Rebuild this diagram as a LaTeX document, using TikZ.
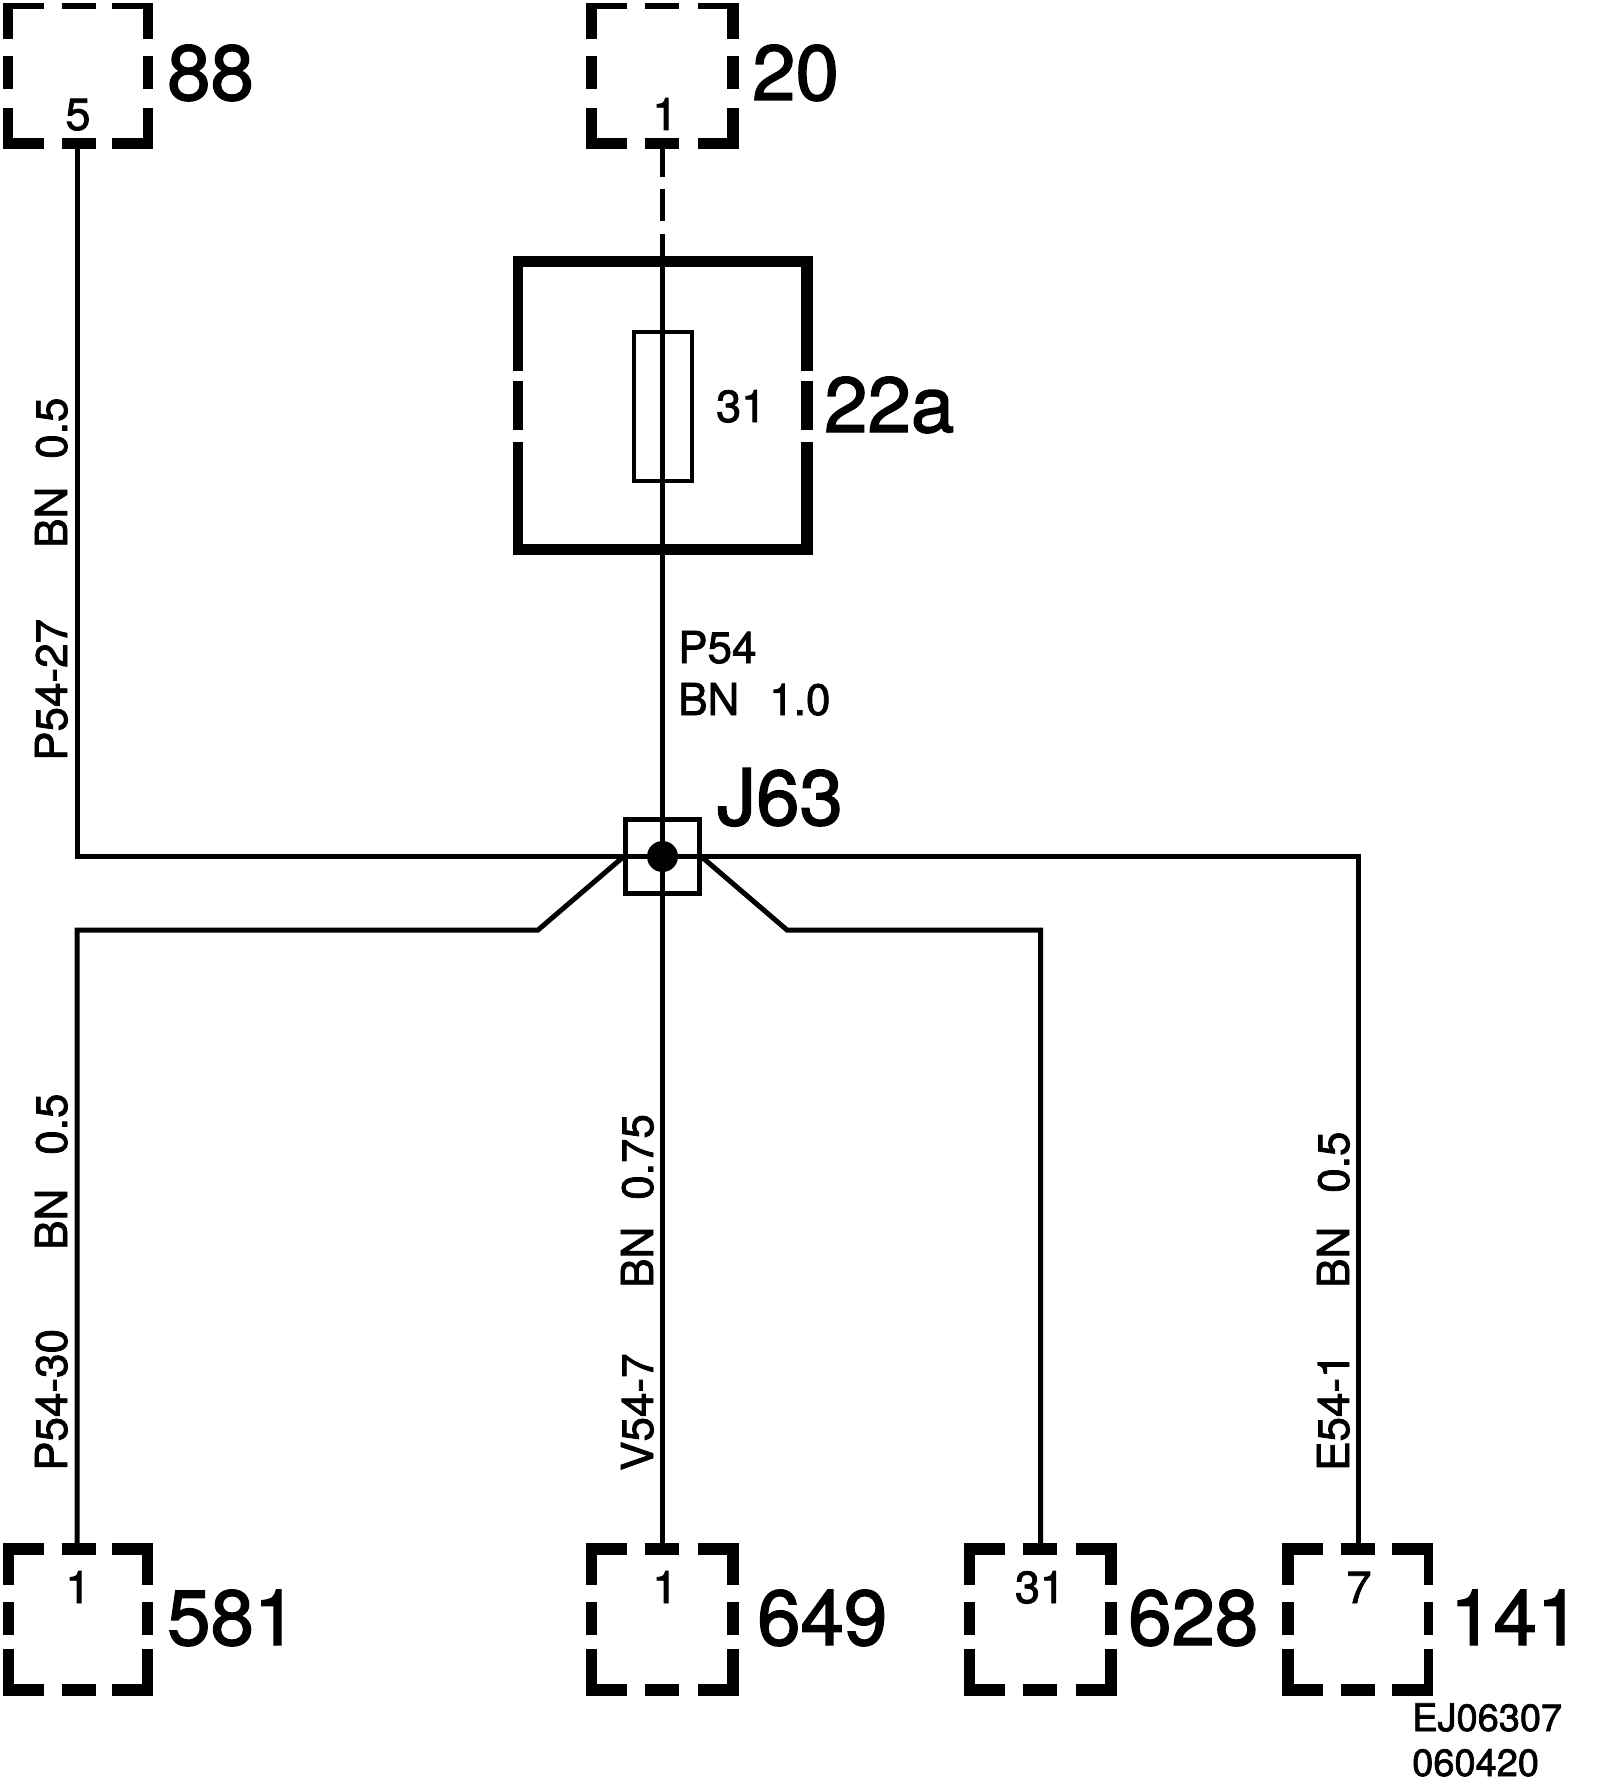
\documentclass[tikz,border=0pt]{standalone}
\usepackage{fontspec}
\setmainfont{TeX Gyre Heros}[FakeBold=1.8]
\newcommand{\cbox}[9]{% name x y w h tTop tBot tL tR
  \begin{scope}[shift={(#2,#3)}]
    \coordinate (#1) at (0,0);
    \pgfmathsetmacro{\bw}{#4}\pgfmathsetmacro{\bh}{#5}
    \pgfmathsetmacro{\cv}{\bh==146 ? 36 : 42}
    \pgfmathsetmacro{\ma}{\bh==146 ? 53 : 59}
    \pgfmathsetmacro{\mb}{\bh==146 ? 86 : 92}
    \pgfmathsetmacro{\cw}{\bw-41}
    \pgfmathsetmacro{\cb}{\bh-\cv-5}
    \pgfmathsetmacro{\tB}{\bh-#7}
    \pgfmathsetmacro{\tR}{\bw-#9}
    \fill (0,0) rectangle (41,#6);
    \fill (59,0) rectangle (93,#6);
    \fill (\cw,0) rectangle (\bw,#6);
    \fill (0,\tB) rectangle (41,\bh);
    \fill (59,\tB) rectangle (93,\bh);
    \fill (\cw,\tB) rectangle (\bw,\bh);
    \fill (0,0) rectangle (#8,\cv);
    \fill (0,\ma) rectangle (#8,\mb);
    \fill (0,\cb) rectangle (#8,\bh);
    \fill (\tR,0) rectangle (\bw,\cv);
    \fill (\tR,\ma) rectangle (\bw,\mb);
    \fill (\tR,\cb) rectangle (\bw,\bh);
  \end{scope}
}
\tikzset{
  wire/.style={line width=5pt,line join=miter},
  big/.style={anchor=base west,inner sep=0pt,font=\fontsize{78}{78}\selectfont},
  pinlabel/.style={anchor=base,inner sep=0pt,font=\fontsize{45}{45}\selectfont},
  wirelabel/.style={anchor=base west,inner sep=0pt,font=\fontsize{44}{44}\selectfont},
  vlabel/.style={wirelabel,rotate=90},
  stamp/.style={anchor=base west,inner sep=0pt,font=\fontsize{38}{38}\selectfont}
}
\begin{document}
\begin{tikzpicture}[x=1pt,y=-1pt]
\useasboundingbox (0,0) rectangle (1600,1790);
% connector boxes
\cbox{b88}{3}{3}{150}{146}{6}{11}{10}{10}
\cbox{b20}{586}{3}{153}{146}{6}{11}{11}{12}
\cbox{b581}{3}{1543}{150}{153}{12}{12}{11}{11}
\cbox{b649}{586}{1543}{153}{153}{12}{12}{11}{12}
\cbox{b628}{964}{1543}{153}{153}{12}{12}{11}{12}
\cbox{b141}{1282}{1543}{151}{153}{12}{12}{12}{9}
% fuse housing
\fill (513,256) rectangle (813,267);
\fill (513,544) rectangle (813,555);
\fill (513,256) rectangle (523,371);
\fill (513,381) rectangle (523,430);
\fill (513,442) rectangle (523,555);
\fill (801,256) rectangle (813,371);
\fill (801,381) rectangle (813,430);
\fill (801,442) rectangle (813,555);
% pins
\coordinate (p88) at (77,149);
\coordinate (p20) at (662.5,149);
\coordinate (p581) at (77,1543);
\coordinate (p649) at (662.5,1543);
\coordinate (p628) at (1040.5,1543);
\coordinate (p141) at (1358.5,1543);
% junction
\node[draw,line width=5pt,minimum size=74pt,inner sep=0pt] (j63) at (662.5,856.5) {};
\node[fill,circle,minimum size=31pt,inner sep=0pt] (dot) at (662.5,856.5) {};
\node[draw,line width=3.6pt,minimum width=58.5pt,minimum height=149.5pt,inner sep=0pt] (fuse) at (663,406.5) {};
\coordinate (jl) at (622,858);
\coordinate (jr) at (703,858);
\coordinate (kl) at (538,930);
\coordinate (kr) at (787,930);
\coordinate (cl) at (77,930);
\coordinate (cr) at (1040.5,930);
\coordinate (tl) at (77,856.5);
\coordinate (tr) at (1358.5,856.5);
% wires
\draw[wire] (p88) -- (tl) -- (dot.center);
\draw[wire] (dot.center) -- (tr) -- (p141);
\draw[wire,dash pattern=on 28pt off 12pt on 32pt off 13pt on 1400pt] (p20) -- (p649);
\draw[wire] (jl) -- (kl) -- (cl) -- (p581);
\draw[wire] (jr) -- (kr) -- (cr) -- (p628);
% big labels
\node[big] (l88) at (167,100) {88};
\node[big] (l20) at (752,100) {20};
\node[big] (l22a) at (824,432) {22a};
\node[big] (lj63) at (717,825) {J63};
\node[big] (l581) at (167,1645) {581};
\node[big] (l649) at (757,1645) {649};
\node[big] (l628) at (1128,1645) {628};
\node[big] (l141) at (1450,1645) {141};
% pin numbers
\node[pinlabel] (n5) at (78,130) {5};
\node[pinlabel] (n1a) at (665,130) {1};
\node[pinlabel] (n1b) at (78,1603) {1};
\node[pinlabel] (n1c) at (665,1603) {1};
\node[pinlabel] (n31) at (1040,1603) {31};
\node[pinlabel] (n7) at (1359,1603) {7};
\node[pinlabel,anchor=base west] (f31) at (716,422) {31};
% wire labels
\node[wirelabel] (w1) at (678,663) {P54};
\node[wirelabel] (w2) at (678,715) {BN\hspace{30pt}1.0};
\node[vlabel] (v1) at (67,761) {P54-27};
\node[vlabel] (v2) at (67,548) {BN\hspace{28pt}0.5};
\node[vlabel] (v3) at (67,1471) {P54-30};
\node[vlabel] (v4) at (67,1250) {BN\hspace{34pt}0.5};
\node[vlabel] (v5) at (653,1471) {V54-7};
\node[vlabel] (v6) at (653,1288) {BN\hspace{27pt}0.75};
\node[vlabel] (v7) at (1349,1471) {E54-1};
\node[vlabel] (v8) at (1349,1288) {BN\hspace{34pt}0.5};
% stamp
\node[stamp] (s1) at (1412,1731) {EJ06307};
\node[stamp] (s2) at (1412,1776) {060420};
\end{tikzpicture}
\end{document}
